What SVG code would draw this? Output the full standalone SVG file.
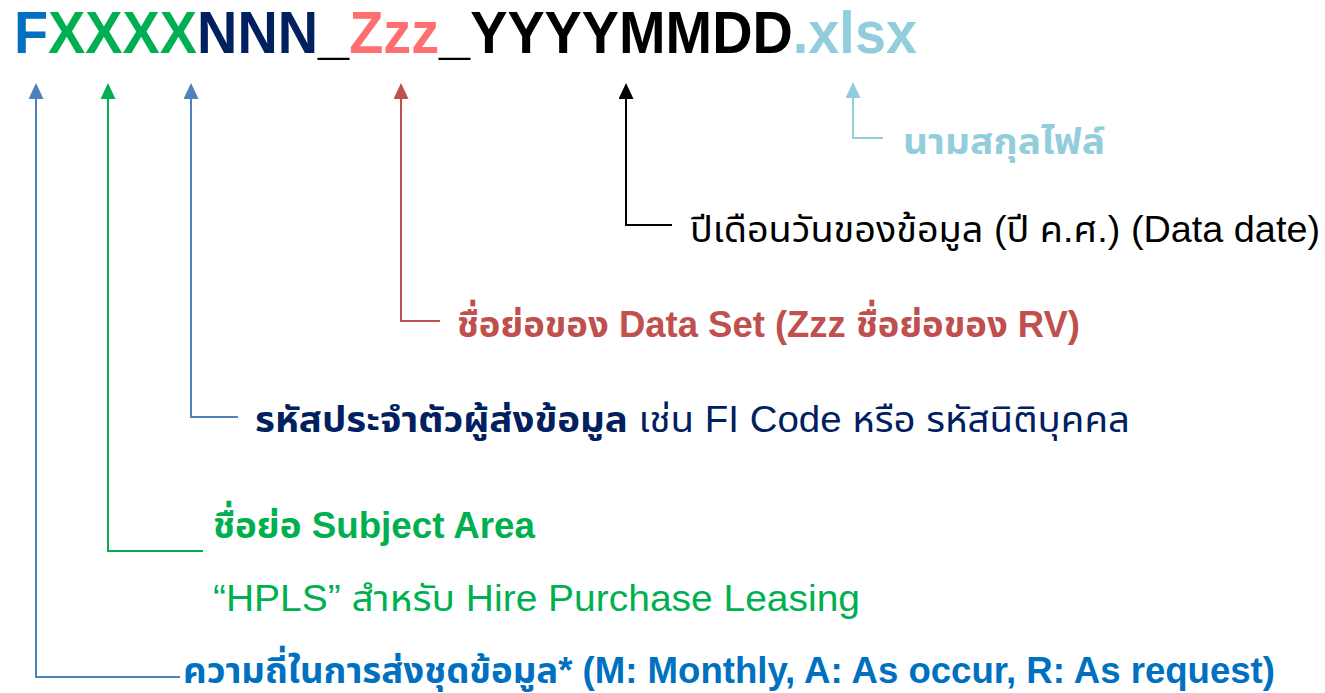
<svg xmlns="http://www.w3.org/2000/svg" width="1325" height="693" viewBox="0 0 1325 693">
<defs>
<style>
.t{font-family:"Liberation Sans","Noto Sans Thai","Noto Sans",sans-serif;}
.title{font-size:60px;font-weight:bold;}
.lbl{font-size:36px;}
.b{font-weight:bold;}
.c{fill:none;stroke-width:2;}
</style>
<marker id="aBlue" markerUnits="userSpaceOnUse" markerWidth="16" markerHeight="15" refX="0" refY="7.5" orient="auto" viewBox="0 0 16 15"><path d="M0,0 L16,7.5 L0,15 z" fill="#4F81BD"/></marker>
<marker id="aGreen" markerUnits="userSpaceOnUse" markerWidth="16" markerHeight="15" refX="0" refY="7.5" orient="auto" viewBox="0 0 16 15"><path d="M0,0 L16,7.5 L0,15 z" fill="#00B050"/></marker>
<marker id="aRed" markerUnits="userSpaceOnUse" markerWidth="16" markerHeight="15" refX="0" refY="7.5" orient="auto" viewBox="0 0 16 15"><path d="M0,0 L16,7.5 L0,15 z" fill="#C0504D"/></marker>
<marker id="aBlack" markerUnits="userSpaceOnUse" markerWidth="16" markerHeight="15" refX="0" refY="7.5" orient="auto" viewBox="0 0 16 15"><path d="M0,0 L16,7.5 L0,15 z" fill="#000000"/></marker>
<marker id="aLight" markerUnits="userSpaceOnUse" markerWidth="16" markerHeight="15" refX="0" refY="7.5" orient="auto" viewBox="0 0 16 15"><path d="M0,0 L16,7.5 L0,15 z" fill="#92CDDC"/></marker>
</defs>
<g id="title" class="t title">
<text x="14" y="53" textLength="903" lengthAdjust="spacingAndGlyphs"><tspan fill="#0070C0">F</tspan><tspan fill="#00B050">XXXX</tspan><tspan fill="#002060">NNN</tspan><tspan fill="#000000">_</tspan><tspan fill="#FF6F6F">Zzz</tspan><tspan fill="#000000">_YYYYMMDD</tspan><tspan fill="#92CDDC">.xlsx</tspan></text>
</g>
<g id="connectors">
<path class="c" stroke="#4F81BD" d="M180,677 H36 V99" marker-end="url(#aBlue)"/>
<path class="c" stroke="#00B050" d="M203,551 H108 V99" marker-end="url(#aGreen)"/>
<path class="c" stroke="#4F81BD" d="M238,417 H191 V99" marker-end="url(#aBlue)"/>
<path class="c" stroke="#C0504D" d="M440,321 H401 V99" marker-end="url(#aRed)"/>
<path class="c" stroke="#000000" d="M672,225 H626 V99" marker-end="url(#aBlack)"/>
<path class="c" stroke="#92CDDC" d="M883,138 H853 V98" marker-end="url(#aLight)"/>
</g>
<g id="label-ext" class="t lbl b"><text x="903" y="154" fill="#92CDDC" textLength="202" lengthAdjust="spacingAndGlyphs">นามสกุลไฟล์</text></g>
<g id="label-date" class="t lbl"><text x="690" y="242" fill="#000000" textLength="630" lengthAdjust="spacingAndGlyphs">ปีเดือนวันของข้อมูล (ปี ค.ศ.) (Data date)</text></g>
<g id="label-dataset" class="t lbl b"><text x="457" y="337" fill="#C0504D" textLength="623" lengthAdjust="spacingAndGlyphs">ชื่อย่อของ Data Set (Zzz ชื่อย่อของ RV)</text></g>
<g id="label-sender" class="t lbl"><text x="255" y="432" fill="#002060" textLength="875" lengthAdjust="spacingAndGlyphs"><tspan font-weight="bold">รหัสประจำตัวผู้ส่งข้อมูล</tspan> เช่น FI Code หรือ รหัสนิติบุคคล</text></g>
<g id="label-subject" class="t lbl b"><text x="213" y="538" fill="#00B050" textLength="322" lengthAdjust="spacingAndGlyphs">ชื่อย่อ Subject Area</text></g>
<g id="label-hpls" class="t lbl"><text x="213" y="611" fill="#00B050" textLength="647" lengthAdjust="spacingAndGlyphs">“HPLS” สำหรับ Hire Purchase Leasing</text></g>
<g id="label-freq" class="t lbl b"><text x="183" y="683" fill="#0070C0" textLength="1092" lengthAdjust="spacingAndGlyphs">ความถี่ในการส่งชุดข้อมูล* (M: Monthly, A: As occur, R: As request)</text></g>
</svg>
